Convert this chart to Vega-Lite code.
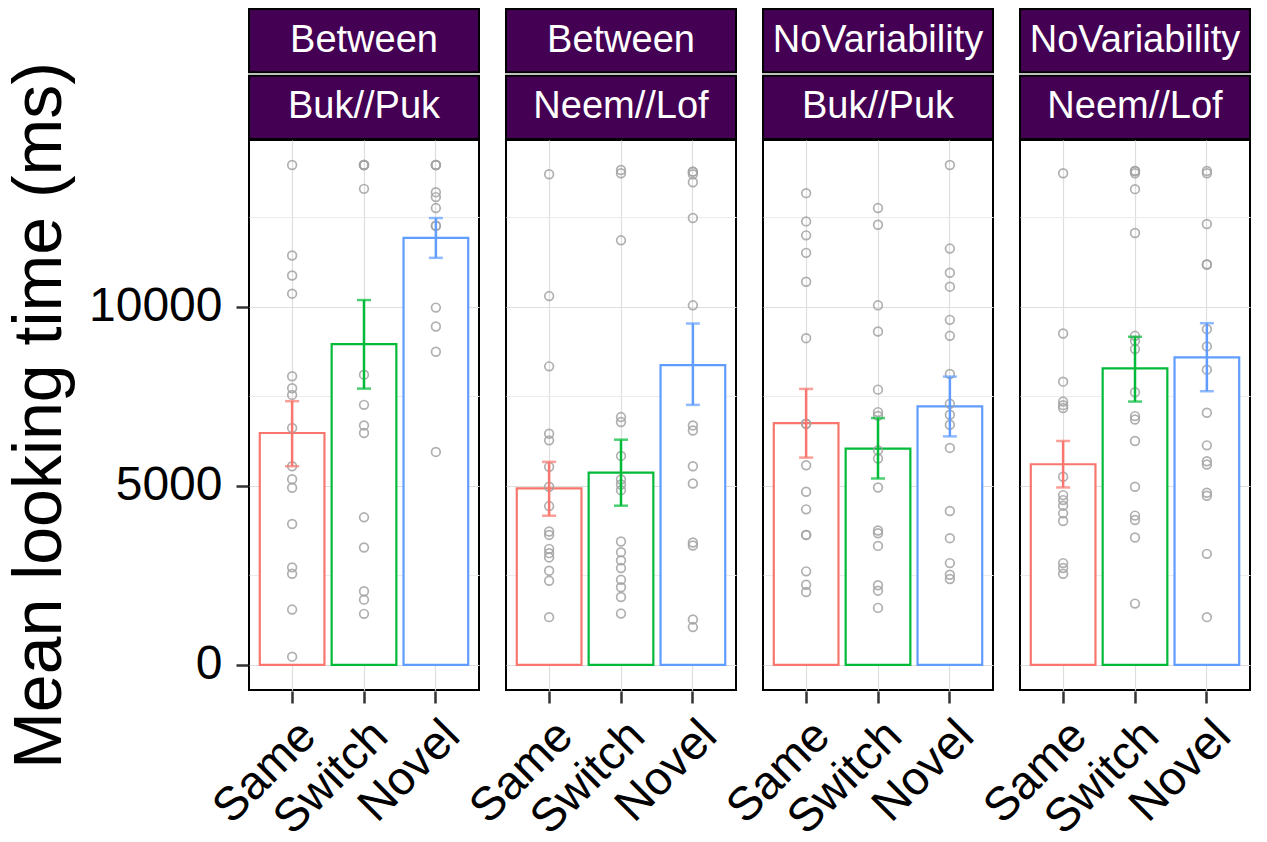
{
  "$schema": "https://vega.github.io/schema/vega-lite/v6.json",
  "padding": {"left": 6, "top": 8, "right": 5, "bottom": 0},
  "background": "white",
  "spacing": -80,
  "config": {
    "font": "Liberation Sans",
    "view": {"stroke": null}
  },
  "datasets": {
    "strips": [
      {"panel": "p1", "level": "top", "label": "Between"},
      {"panel": "p1", "level": "bottom", "label": "Buk//Puk"},
      {"panel": "p2", "level": "top", "label": "Between"},
      {"panel": "p2", "level": "bottom", "label": "Neem//Lof"},
      {"panel": "p3", "level": "top", "label": "NoVariability"},
      {"panel": "p3", "level": "bottom", "label": "Buk//Puk"},
      {"panel": "p4", "level": "top", "label": "NoVariability"},
      {"panel": "p4", "level": "bottom", "label": "Neem//Lof"}
    ],
    "main": [
      {"kind": "sum", "panel": "p1", "cond": "Same", "mean": 6472, "lo": 5545, "hi": 7361},
      {"kind": "sum", "panel": "p1", "cond": "Switch", "mean": 8953, "lo": 7711, "hi": 10183},
      {"kind": "sum", "panel": "p1", "cond": "Novel", "mean": 11917, "lo": 11361, "hi": 12472},
      {"kind": "sum", "panel": "p2", "cond": "Same", "mean": 4925, "lo": 4164, "hi": 5667},
      {"kind": "sum", "panel": "p2", "cond": "Switch", "mean": 5369, "lo": 4444, "hi": 6286},
      {"kind": "sum", "panel": "p2", "cond": "Novel", "mean": 8369, "lo": 7258, "hi": 9528},
      {"kind": "sum", "panel": "p3", "cond": "Same", "mean": 6750, "lo": 5786, "hi": 7703},
      {"kind": "sum", "panel": "p3", "cond": "Switch", "mean": 6036, "lo": 5203, "hi": 6889},
      {"kind": "sum", "panel": "p3", "cond": "Novel", "mean": 7213, "lo": 6379, "hi": 8046},
      {"kind": "sum", "panel": "p4", "cond": "Same", "mean": 5600, "lo": 4953, "hi": 6250},
      {"kind": "sum", "panel": "p4", "cond": "Switch", "mean": 8278, "lo": 7350, "hi": 9157},
      {"kind": "sum", "panel": "p4", "cond": "Novel", "mean": 8583, "lo": 7639, "hi": 9537},

      {"kind": "pt", "panel": "p1", "cond": "Same", "value": 13953},
      {"kind": "pt", "panel": "p1", "cond": "Same", "value": 11425},
      {"kind": "pt", "panel": "p1", "cond": "Same", "value": 10869},
      {"kind": "pt", "panel": "p1", "cond": "Same", "value": 10361},
      {"kind": "pt", "panel": "p1", "cond": "Same", "value": 8056},
      {"kind": "pt", "panel": "p1", "cond": "Same", "value": 7722},
      {"kind": "pt", "panel": "p1", "cond": "Same", "value": 7536},
      {"kind": "pt", "panel": "p1", "cond": "Same", "value": 6611},
      {"kind": "pt", "panel": "p1", "cond": "Same", "value": 5545},
      {"kind": "pt", "panel": "p1", "cond": "Same", "value": 5183},
      {"kind": "pt", "panel": "p1", "cond": "Same", "value": 4944},
      {"kind": "pt", "panel": "p1", "cond": "Same", "value": 3933},
      {"kind": "pt", "panel": "p1", "cond": "Same", "value": 2722},
      {"kind": "pt", "panel": "p1", "cond": "Same", "value": 2545},
      {"kind": "pt", "panel": "p1", "cond": "Same", "value": 1545},
      {"kind": "pt", "panel": "p1", "cond": "Same", "value": 231},
      {"kind": "pt", "panel": "p1", "cond": "Switch", "value": 13953},
      {"kind": "pt", "panel": "p1", "cond": "Switch", "value": 13953},
      {"kind": "pt", "panel": "p1", "cond": "Switch", "value": 13953},
      {"kind": "pt", "panel": "p1", "cond": "Switch", "value": 13953},
      {"kind": "pt", "panel": "p1", "cond": "Switch", "value": 13286},
      {"kind": "pt", "panel": "p1", "cond": "Switch", "value": 8101},
      {"kind": "pt", "panel": "p1", "cond": "Switch", "value": 7258},
      {"kind": "pt", "panel": "p1", "cond": "Switch", "value": 6684},
      {"kind": "pt", "panel": "p1", "cond": "Switch", "value": 6472},
      {"kind": "pt", "panel": "p1", "cond": "Switch", "value": 4119},
      {"kind": "pt", "panel": "p1", "cond": "Switch", "value": 3277},
      {"kind": "pt", "panel": "p1", "cond": "Switch", "value": 2055},
      {"kind": "pt", "panel": "p1", "cond": "Switch", "value": 1822},
      {"kind": "pt", "panel": "p1", "cond": "Switch", "value": 1425},
      {"kind": "pt", "panel": "p1", "cond": "Novel", "value": 13953},
      {"kind": "pt", "panel": "p1", "cond": "Novel", "value": 13953},
      {"kind": "pt", "panel": "p1", "cond": "Novel", "value": 13953},
      {"kind": "pt", "panel": "p1", "cond": "Novel", "value": 13194},
      {"kind": "pt", "panel": "p1", "cond": "Novel", "value": 13056},
      {"kind": "pt", "panel": "p1", "cond": "Novel", "value": 12750},
      {"kind": "pt", "panel": "p1", "cond": "Novel", "value": 12258},
      {"kind": "pt", "panel": "p1", "cond": "Novel", "value": 12258},
      {"kind": "pt", "panel": "p1", "cond": "Novel", "value": 9972},
      {"kind": "pt", "panel": "p1", "cond": "Novel", "value": 9444},
      {"kind": "pt", "panel": "p1", "cond": "Novel", "value": 8739},
      {"kind": "pt", "panel": "p1", "cond": "Novel", "value": 5944},

      {"kind": "pt", "panel": "p2", "cond": "Same", "value": 13694},
      {"kind": "pt", "panel": "p2", "cond": "Same", "value": 10294},
      {"kind": "pt", "panel": "p2", "cond": "Same", "value": 8333},
      {"kind": "pt", "panel": "p2", "cond": "Same", "value": 6453},
      {"kind": "pt", "panel": "p2", "cond": "Same", "value": 6267},
      {"kind": "pt", "panel": "p2", "cond": "Same", "value": 5528},
      {"kind": "pt", "panel": "p2", "cond": "Same", "value": 4972},
      {"kind": "pt", "panel": "p2", "cond": "Same", "value": 4433},
      {"kind": "pt", "panel": "p2", "cond": "Same", "value": 3722},
      {"kind": "pt", "panel": "p2", "cond": "Same", "value": 3628},
      {"kind": "pt", "panel": "p2", "cond": "Same", "value": 3239},
      {"kind": "pt", "panel": "p2", "cond": "Same", "value": 3119},
      {"kind": "pt", "panel": "p2", "cond": "Same", "value": 3000},
      {"kind": "pt", "panel": "p2", "cond": "Same", "value": 2628},
      {"kind": "pt", "panel": "p2", "cond": "Same", "value": 2350},
      {"kind": "pt", "panel": "p2", "cond": "Same", "value": 1333},
      {"kind": "pt", "panel": "p2", "cond": "Switch", "value": 13814},
      {"kind": "pt", "panel": "p2", "cond": "Switch", "value": 13722},
      {"kind": "pt", "panel": "p2", "cond": "Switch", "value": 11850},
      {"kind": "pt", "panel": "p2", "cond": "Switch", "value": 6917},
      {"kind": "pt", "panel": "p2", "cond": "Switch", "value": 6778},
      {"kind": "pt", "panel": "p2", "cond": "Switch", "value": 5833},
      {"kind": "pt", "panel": "p2", "cond": "Switch", "value": 5175},
      {"kind": "pt", "panel": "p2", "cond": "Switch", "value": 5036},
      {"kind": "pt", "panel": "p2", "cond": "Switch", "value": 4878},
      {"kind": "pt", "panel": "p2", "cond": "Switch", "value": 3444},
      {"kind": "pt", "panel": "p2", "cond": "Switch", "value": 3147},
      {"kind": "pt", "panel": "p2", "cond": "Switch", "value": 2917},
      {"kind": "pt", "panel": "p2", "cond": "Switch", "value": 2703},
      {"kind": "pt", "panel": "p2", "cond": "Switch", "value": 2378},
      {"kind": "pt", "panel": "p2", "cond": "Switch", "value": 2167},
      {"kind": "pt", "panel": "p2", "cond": "Switch", "value": 1897},
      {"kind": "pt", "panel": "p2", "cond": "Switch", "value": 1433},
      {"kind": "pt", "panel": "p2", "cond": "Novel", "value": 13767},
      {"kind": "pt", "panel": "p2", "cond": "Novel", "value": 13767},
      {"kind": "pt", "panel": "p2", "cond": "Novel", "value": 13694},
      {"kind": "pt", "panel": "p2", "cond": "Novel", "value": 13472},
      {"kind": "pt", "panel": "p2", "cond": "Novel", "value": 12472},
      {"kind": "pt", "panel": "p2", "cond": "Novel", "value": 10036},
      {"kind": "pt", "panel": "p2", "cond": "Novel", "value": 6684},
      {"kind": "pt", "panel": "p2", "cond": "Novel", "value": 6544},
      {"kind": "pt", "panel": "p2", "cond": "Novel", "value": 5545},
      {"kind": "pt", "panel": "p2", "cond": "Novel", "value": 5064},
      {"kind": "pt", "panel": "p2", "cond": "Novel", "value": 3417},
      {"kind": "pt", "panel": "p2", "cond": "Novel", "value": 3333},
      {"kind": "pt", "panel": "p2", "cond": "Novel", "value": 1267},
      {"kind": "pt", "panel": "p2", "cond": "Novel", "value": 1056},

      {"kind": "pt", "panel": "p3", "cond": "Same", "value": 13167},
      {"kind": "pt", "panel": "p3", "cond": "Same", "value": 12378},
      {"kind": "pt", "panel": "p3", "cond": "Same", "value": 11989},
      {"kind": "pt", "panel": "p3", "cond": "Same", "value": 11500},
      {"kind": "pt", "panel": "p3", "cond": "Same", "value": 10694},
      {"kind": "pt", "panel": "p3", "cond": "Same", "value": 9119},
      {"kind": "pt", "panel": "p3", "cond": "Same", "value": 6731},
      {"kind": "pt", "panel": "p3", "cond": "Same", "value": 6731},
      {"kind": "pt", "panel": "p3", "cond": "Same", "value": 5572},
      {"kind": "pt", "panel": "p3", "cond": "Same", "value": 4833},
      {"kind": "pt", "panel": "p3", "cond": "Same", "value": 4342},
      {"kind": "pt", "panel": "p3", "cond": "Same", "value": 3628},
      {"kind": "pt", "panel": "p3", "cond": "Same", "value": 3628},
      {"kind": "pt", "panel": "p3", "cond": "Same", "value": 2611},
      {"kind": "pt", "panel": "p3", "cond": "Same", "value": 2239},
      {"kind": "pt", "panel": "p3", "cond": "Same", "value": 2036},
      {"kind": "pt", "panel": "p3", "cond": "Switch", "value": 12750},
      {"kind": "pt", "panel": "p3", "cond": "Switch", "value": 12286},
      {"kind": "pt", "panel": "p3", "cond": "Switch", "value": 10036},
      {"kind": "pt", "panel": "p3", "cond": "Switch", "value": 9306},
      {"kind": "pt", "panel": "p3", "cond": "Switch", "value": 7683},
      {"kind": "pt", "panel": "p3", "cond": "Switch", "value": 7056},
      {"kind": "pt", "panel": "p3", "cond": "Switch", "value": 6950},
      {"kind": "pt", "panel": "p3", "cond": "Switch", "value": 5989},
      {"kind": "pt", "panel": "p3", "cond": "Switch", "value": 5758},
      {"kind": "pt", "panel": "p3", "cond": "Switch", "value": 4953},
      {"kind": "pt", "panel": "p3", "cond": "Switch", "value": 3750},
      {"kind": "pt", "panel": "p3", "cond": "Switch", "value": 3675},
      {"kind": "pt", "panel": "p3", "cond": "Switch", "value": 3322},
      {"kind": "pt", "panel": "p3", "cond": "Switch", "value": 2222},
      {"kind": "pt", "panel": "p3", "cond": "Switch", "value": 2072},
      {"kind": "pt", "panel": "p3", "cond": "Switch", "value": 1592},
      {"kind": "pt", "panel": "p3", "cond": "Novel", "value": 13953},
      {"kind": "pt", "panel": "p3", "cond": "Novel", "value": 11620},
      {"kind": "pt", "panel": "p3", "cond": "Novel", "value": 10944},
      {"kind": "pt", "panel": "p3", "cond": "Novel", "value": 10556},
      {"kind": "pt", "panel": "p3", "cond": "Novel", "value": 9630},
      {"kind": "pt", "panel": "p3", "cond": "Novel", "value": 9185},
      {"kind": "pt", "panel": "p3", "cond": "Novel", "value": 8120},
      {"kind": "pt", "panel": "p3", "cond": "Novel", "value": 7287},
      {"kind": "pt", "panel": "p3", "cond": "Novel", "value": 6981},
      {"kind": "pt", "panel": "p3", "cond": "Novel", "value": 6703},
      {"kind": "pt", "panel": "p3", "cond": "Novel", "value": 6056},
      {"kind": "pt", "panel": "p3", "cond": "Novel", "value": 4297},
      {"kind": "pt", "panel": "p3", "cond": "Novel", "value": 3537},
      {"kind": "pt", "panel": "p3", "cond": "Novel", "value": 2842},
      {"kind": "pt", "panel": "p3", "cond": "Novel", "value": 2517},
      {"kind": "pt", "panel": "p3", "cond": "Novel", "value": 2397},

      {"kind": "pt", "panel": "p4", "cond": "Same", "value": 13722},
      {"kind": "pt", "panel": "p4", "cond": "Same", "value": 9250},
      {"kind": "pt", "panel": "p4", "cond": "Same", "value": 7906},
      {"kind": "pt", "panel": "p4", "cond": "Same", "value": 7350},
      {"kind": "pt", "panel": "p4", "cond": "Same", "value": 7250},
      {"kind": "pt", "panel": "p4", "cond": "Same", "value": 7170},
      {"kind": "pt", "panel": "p4", "cond": "Same", "value": 5250},
      {"kind": "pt", "panel": "p4", "cond": "Same", "value": 4739},
      {"kind": "pt", "panel": "p4", "cond": "Same", "value": 4600},
      {"kind": "pt", "panel": "p4", "cond": "Same", "value": 4444},
      {"kind": "pt", "panel": "p4", "cond": "Same", "value": 4231},
      {"kind": "pt", "panel": "p4", "cond": "Same", "value": 4017},
      {"kind": "pt", "panel": "p4", "cond": "Same", "value": 2842},
      {"kind": "pt", "panel": "p4", "cond": "Same", "value": 2703},
      {"kind": "pt", "panel": "p4", "cond": "Same", "value": 2545},
      {"kind": "pt", "panel": "p4", "cond": "Switch", "value": 13786},
      {"kind": "pt", "panel": "p4", "cond": "Switch", "value": 13786},
      {"kind": "pt", "panel": "p4", "cond": "Switch", "value": 13722},
      {"kind": "pt", "panel": "p4", "cond": "Switch", "value": 13278},
      {"kind": "pt", "panel": "p4", "cond": "Switch", "value": 12056},
      {"kind": "pt", "panel": "p4", "cond": "Switch", "value": 9185},
      {"kind": "pt", "panel": "p4", "cond": "Switch", "value": 9046},
      {"kind": "pt", "panel": "p4", "cond": "Switch", "value": 8814},
      {"kind": "pt", "panel": "p4", "cond": "Switch", "value": 7611},
      {"kind": "pt", "panel": "p4", "cond": "Switch", "value": 6944},
      {"kind": "pt", "panel": "p4", "cond": "Switch", "value": 6850},
      {"kind": "pt", "panel": "p4", "cond": "Switch", "value": 6250},
      {"kind": "pt", "panel": "p4", "cond": "Switch", "value": 4972},
      {"kind": "pt", "panel": "p4", "cond": "Switch", "value": 4167},
      {"kind": "pt", "panel": "p4", "cond": "Switch", "value": 4044},
      {"kind": "pt", "panel": "p4", "cond": "Switch", "value": 3556},
      {"kind": "pt", "panel": "p4", "cond": "Switch", "value": 1711},
      {"kind": "pt", "panel": "p4", "cond": "Novel", "value": 13786},
      {"kind": "pt", "panel": "p4", "cond": "Novel", "value": 13722},
      {"kind": "pt", "panel": "p4", "cond": "Novel", "value": 12306},
      {"kind": "pt", "panel": "p4", "cond": "Novel", "value": 11175},
      {"kind": "pt", "panel": "p4", "cond": "Novel", "value": 11175},
      {"kind": "pt", "panel": "p4", "cond": "Novel", "value": 9370},
      {"kind": "pt", "panel": "p4", "cond": "Novel", "value": 8889},
      {"kind": "pt", "panel": "p4", "cond": "Novel", "value": 8240},
      {"kind": "pt", "panel": "p4", "cond": "Novel", "value": 7037},
      {"kind": "pt", "panel": "p4", "cond": "Novel", "value": 6128},
      {"kind": "pt", "panel": "p4", "cond": "Novel", "value": 5684},
      {"kind": "pt", "panel": "p4", "cond": "Novel", "value": 5592},
      {"kind": "pt", "panel": "p4", "cond": "Novel", "value": 4806},
      {"kind": "pt", "panel": "p4", "cond": "Novel", "value": 4722},
      {"kind": "pt", "panel": "p4", "cond": "Novel", "value": 3100},
      {"kind": "pt", "panel": "p4", "cond": "Novel", "value": 1333}
    ]
  },
  "vconcat": [
    {
      "data": {"name": "strips"},
      "facet": {
        "column": {"field": "panel", "type": "nominal", "header": null, "sort": ["p1", "p2", "p3", "p4"]}
      },
      "spacing": 25,
      "spec": {
        "width": 230,
        "height": 130,
        "layer": [
          {
            "mark": {"type": "rect", "fill": "#440154", "stroke": "black", "strokeWidth": 2},
            "encoding": {
              "y": {"field": "level", "type": "nominal", "sort": ["top", "bottom"], "axis": null,
                    "scale": {"paddingInner": 0.05, "paddingOuter": 0}}
            }
          },
          {
            "mark": {"type": "text", "color": "white", "fontSize": 38, "font": "Liberation Sans"},
            "encoding": {
              "y": {"field": "level", "type": "nominal", "sort": ["top", "bottom"], "axis": null,
                    "scale": {"paddingInner": 0.05, "paddingOuter": 0}},
              "text": {"field": "label"}
            }
          }
        ]
      }
    },
    {
      "data": {"name": "main"},
      "facet": {
        "column": {"field": "panel", "type": "nominal", "header": null, "sort": ["p1", "p2", "p3", "p4"]}
      },
      "spacing": 25,
      "spec": {
        "width": 230,
        "height": 550,
        "view": {"stroke": "black", "strokeWidth": 2},
        "encoding": {
          "x": {
            "field": "cond", "type": "nominal", "sort": ["Same", "Switch", "Novel"],
            "scale": {"paddingInner": 0.1, "paddingOuter": 0.15},
            "axis": {
              "title": null, "labelAngle": -45, "labelAlign": "right", "labelBaseline": "top",
              "labelFontSize": 47, "labelColor": "black", "labelPadding": 9,
              "tickSize": 12, "tickWidth": 2.5, "tickColor": "#333333",
              "domain": false, "grid": true, "gridColor": "#dedede", "gridWidth": 1.2, "bandPosition": 0.5
            }
          }
        },
        "layer": [
          {
            "transform": [{"filter": "datum.kind === 'sum'"}],
            "mark": {"type": "bar", "fill": "white", "strokeWidth": 2.2},
            "encoding": {
              "y": {
                "field": "mean", "type": "quantitative",
                "scale": {"domain": [-700, 14650], "nice": false, "zero": false},
                "axis": {
                  "title": "Mean looking time (ms)", "titleFontSize": 68, "titleFontWeight": "normal",
                  "titleColor": "black", "titlePadding": 14,
                  "values": [0, 2500, 5000, 7500, 10000, 12500],
                  "labelExpr": "datum.value % 5000 === 0 ? datum.label : ''",
                  "format": "d",
                  "labelFontSize": 48, "labelColor": "black", "labelPadding": 14,
                  "tickSize": 12, "tickWidth": 2.5, "tickColor": "#333333",
                  "tickOpacity": {"condition": {"test": "datum.value % 5000 === 0", "value": 1}, "value": 0},
                  "domain": false, "grid": true, "gridWidth": 1.2,
                  "gridColor": {"condition": {"test": "datum.value % 5000 === 0", "value": "#dedede"}, "value": "#ececec"}
                }
              },
              "stroke": {
                "field": "cond", "type": "nominal",
                "scale": {"domain": ["Same", "Switch", "Novel"], "range": ["#F8766D", "#00BA38", "#619CFF"]},
                "legend": null
              }
            }
          },
          {
            "transform": [{"filter": "datum.kind === 'pt'"}],
            "mark": {"type": "point", "shape": "circle", "filled": false, "color": "#a3a3a3", "size": 76, "strokeWidth": 1.7, "opacity": 0.85},
            "encoding": {
              "y": {"field": "value", "type": "quantitative"}
            }
          },
          {
            "transform": [{"filter": "datum.kind === 'sum'"}],
            "mark": {"type": "rule", "strokeWidth": 2.5},
            "encoding": {
              "y": {"field": "lo", "type": "quantitative"},
              "y2": {"field": "hi"},
              "color": {"field": "cond", "type": "nominal", "scale": {"domain": ["Same", "Switch", "Novel"], "range": ["#F8766D", "#00BA38", "#619CFF"]}, "legend": null}
            }
          },
          {
            "transform": [{"filter": "datum.kind === 'sum'"}],
            "mark": {"type": "tick", "size": 14, "thickness": 2.5},
            "encoding": {
              "y": {"field": "lo", "type": "quantitative"},
              "color": {"field": "cond", "type": "nominal", "legend": null}
            }
          },
          {
            "transform": [{"filter": "datum.kind === 'sum'"}],
            "mark": {"type": "tick", "size": 14, "thickness": 2.5},
            "encoding": {
              "y": {"field": "hi", "type": "quantitative"},
              "color": {"field": "cond", "type": "nominal", "legend": null}
            }
          }
        ]
      }
    }
  ]
}
